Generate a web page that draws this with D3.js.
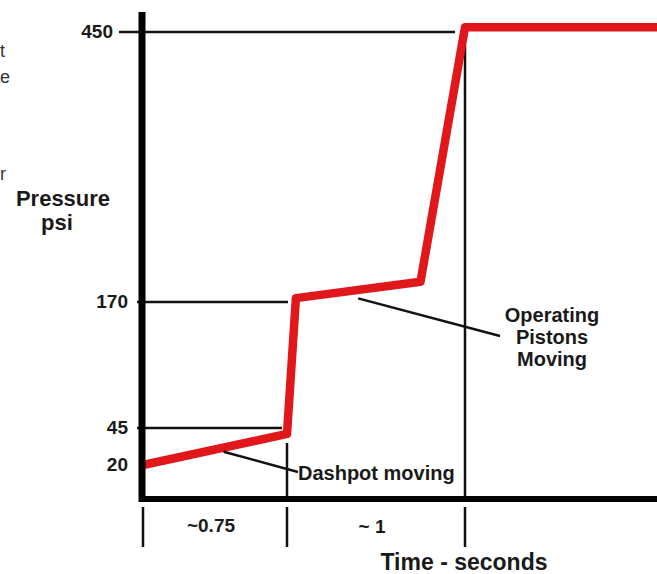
<!DOCTYPE html>
<html><head><meta charset="utf-8">
<script src="https://cdn.jsdelivr.net/npm/d3@7"></script>
<style>
html,body{margin:0;padding:0;background:#fff;}
svg{display:block;}
text{font-family:"Liberation Sans",Arial,sans-serif;font-weight:bold;fill:#1a1a1a;}
</style></head>
<body>
<svg id="chart" width="657" height="574"></svg>
<script>
// ---- data ----
const timeValues = [0, 0.75, 0.8, 1.5, 1.75, 2.85];      // seconds
const pressureValues = [20, 41, 174, 191, 455, 455];     // psi
const yTickValues = [450, 170, 45, 20];
const yTickLabels = ["450", "170", "45", "20"];
const xTickValues = [0, 0.75, 1.75];
const xIntervalLabels = ["~0.75", "~ 1"];
const refLevels = [450, 170, 45];
const edgeFragments = ["t", "e", "r"];

const svg = d3.select("#chart");
const W = 657, H = 574;

// schematic (non-uniform) scales, piecewise linear
const x = d3.scaleLinear().domain([0, 0.75, 1.75]).range([143, 287, 465]);
const y = d3.scaleLinear().domain([20, 45, 170, 450]).range([465, 428, 302, 32]);

const axisY = 499, axisTop = 12, axisX = 142;

// left-edge text fragments (from neighbouring content)
const fragY = [57, 83, 180];
svg.selectAll("text.frag").data(edgeFragments).enter().append("text")
  .attr("class", "frag").attr("x", 0).attr("y", (d, i) => fragY[i])
  .style("font-weight", "normal").style("font-size", "18px").style("fill", "#333")
  .text(d => d);

// horizontal reference lines
const refStart = {450: 119, 170: 137, 45: 137};
const refEnd = {450: x(1.75) - 10, 170: x(0.75) + 1, 45: x(0.75) - 5};
svg.selectAll("line.ref").data(refLevels).enter().append("line")
  .attr("class", "ref")
  .attr("x1", d => refStart[d]).attr("x2", d => refEnd[d])
  .attr("y1", d => y(d)).attr("y2", d => y(d))
  .attr("stroke", "#111").attr("stroke-width", 2.5);

// vertical guide lines from curve corners down to axis
svg.append("line").attr("x1", x(0.75)).attr("x2", x(0.75))
  .attr("y1", 443).attr("y2", axisY).attr("stroke", "#111").attr("stroke-width", 2.5);
svg.append("line").attr("x1", x(1.75)).attr("x2", x(1.75))
  .attr("y1", 45).attr("y2", axisY).attr("stroke", "#111").attr("stroke-width", 2.5);

// red pressure curve
const pts = timeValues.map((t, i) => [t, pressureValues[i]]);
svg.append("path").datum(pts)
  .attr("d", d3.line().x(d => x(d[0])).y(d => y(d[1])))
  .attr("fill", "none").attr("stroke", "#e0171b").attr("stroke-width", 8.5)
  .attr("stroke-linejoin", "round");

// axes (thick)
svg.append("line").attr("x1", axisX).attr("x2", axisX).attr("y1", axisTop).attr("y2", axisY + 3)
  .attr("stroke", "#000").attr("stroke-width", 7);
svg.append("line").attr("x1", axisX - 3).attr("x2", W).attr("y1", axisY).attr("y2", axisY)
  .attr("stroke", "#000").attr("stroke-width", 6);

// y tick labels
svg.selectAll("text.ytl").data(yTickValues).enter().append("text")
  .attr("class", "ytl")
  .attr("x", d => d === 450 ? 113 : 128)
  .attr("y", d => y(d) + 6)
  .attr("text-anchor", "end").style("font-size", "19px")
  .text((d, i) => yTickLabels[i]);

// x interval ticks below axis
svg.selectAll("line.xt").data(xTickValues).enter().append("line")
  .attr("class", "xt")
  .attr("x1", d => x(d)).attr("x2", d => x(d))
  .attr("y1", 507).attr("y2", 547)
  .attr("stroke", "#111").attr("stroke-width", 2.5);

svg.selectAll("text.xil").data(xIntervalLabels).enter().append("text")
  .attr("class", "xil")
  .attr("x", (d, i) => (x(xTickValues[i]) + x(xTickValues[i + 1])) / 2 - 4)
  .attr("y", (d, i) => i === 0 ? 532 : 533)
  .attr("text-anchor", "middle").style("font-size", "19px")
  .text(d => d);

// axis titles
svg.append("text").attr("x", 464).attr("y", 570).attr("text-anchor", "middle")
  .style("font-size", "23px").text("Time - seconds");
svg.append("text").attr("x", 63).attr("y", 206).attr("text-anchor", "middle")
  .style("font-size", "22px").text("Pressure");
svg.append("text").attr("x", 57).attr("y", 230).attr("text-anchor", "middle")
  .style("font-size", "22px").text("psi");

// annotations
const dashT = 0.42;
svg.append("line").attr("x1", x(dashT)).attr("y1", y(29))
  .attr("x2", 298).attr("y2", 472).attr("stroke", "#111").attr("stroke-width", 2.5);
svg.append("text").attr("x", 298).attr("y", 480).style("font-size", "20px").text("Dashpot moving");

const opT = 1.15;
svg.append("line").attr("x1", x(opT)).attr("y1", y(180) + 6)
  .attr("x2", 500).attr("y2", 336).attr("stroke", "#111").attr("stroke-width", 2.5);
const opLines = ["Operating", "Pistons", "Moving"];
svg.selectAll("text.op").data(opLines).enter().append("text")
  .attr("class", "op").attr("x", 552).attr("y", (d, i) => 322 + i * 22)
  .attr("text-anchor", "middle").style("font-size", "20px").text(d => d);
</script>
</body></html>
